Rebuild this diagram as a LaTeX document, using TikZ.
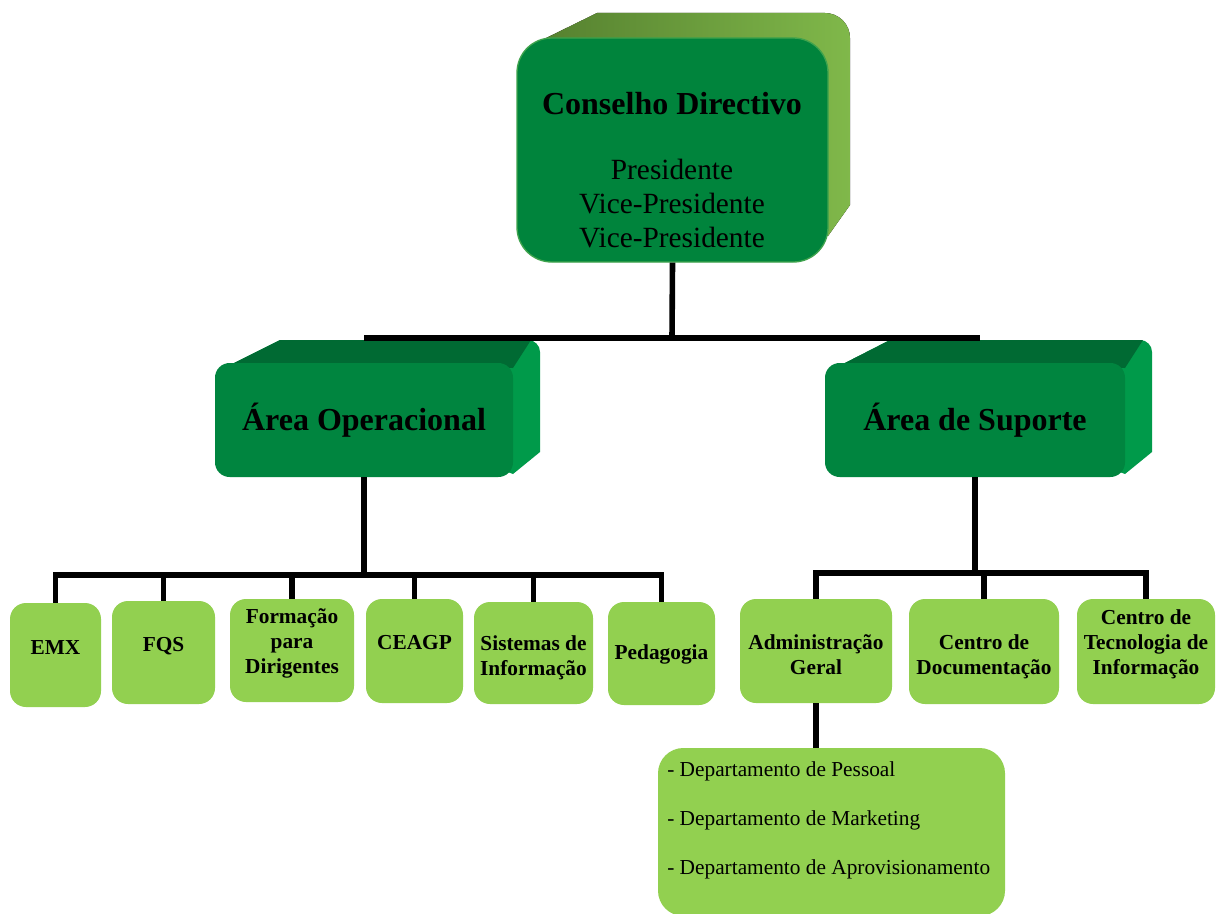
\documentclass[tikz,border=0pt]{standalone}
\usepackage{fontspec}
\setmainfont{Liberation Serif}
\usetikzlibrary{calc}

\definecolor{headfront}{HTML}{00843C}
\definecolor{headrim}{HTML}{3FA34D}
\definecolor{headback}{HTML}{55802F}
\definecolor{headside}{HTML}{80B84A}
\definecolor{areafront}{HTML}{00853F}
\definecolor{areatop}{HTML}{006A33}
\definecolor{areaside}{HTML}{009A4A}
\definecolor{leaf}{HTML}{92D050}

\begin{document}
\begin{tikzpicture}[x=0.75pt,y=-0.75pt]
    \tikzstyle{every node}+=[inner sep=0pt]
    \tikzstyle{wire}=[black, line width=4.2pt]
    \tikzstyle{head}=[fill=headfront, draw=headrim, line width=1pt, rounded corners=26pt]
    \tikzstyle{area}=[fill=areafront, rounded corners=11pt, font=\fontsize{24}{28}\selectfont\bfseries]
    \tikzstyle{unit}=[fill=leaf, rounded corners=12pt, align=center, font=\fontsize{16}{18.75}\selectfont\bfseries]
    \useasboundingbox (0,0) rectangle (1216,913);
    \fill [white] (0,0) rectangle (1216,913);
    % 3d backs
    \fill [left color=headback, right color=headside] (538,42) -- (597,13) -- (825,13) arc [start angle=90, end angle=0, radius=18.75pt] -- (850,205) -- (828,236) -- cycle;
    \fill [areaside] (228,366) -- (280,340) -- (528,340) arc [start angle=90, end angle=0, radius=9pt] -- (540,452) -- (513,474) -- cycle;
    \fill [areatop] (228,366) -- (280,340) -- (531,340) -- (513,368) -- cycle;
    \fill [areaside] (839,366) -- (890,340) -- (1140,340) arc [start angle=90, end angle=0, radius=9pt] -- (1152,452) -- (1125,474) -- cycle;
    \fill [areatop] (839,366) -- (890,340) -- (1143,340) -- (1125,368) -- cycle;
    % boxes
    \node [head, minimum width=233.25pt, minimum height=168pt] (cd) at (672.5,150) {};
    \node [font=\fontsize{24}{28}\selectfont\bfseries] (cdtitle) at (672,104) {Conselho Directivo};
    \node [align=center, font=\fontsize{22}{25.5}\selectfont] (cdroles) at (672,204) {Presidente\\Vice-Presidente\\Vice-Presidente};
    \node [area, minimum width=223.5pt, minimum height=85.5pt] (ao) at (364,420) {Área Operacional};
    \node [area, minimum width=225pt, minimum height=85.5pt] (as) at (975,420) {Área de Suporte};
    \node [unit, minimum width=68.25pt, minimum height=78pt, text depth=10pt, text height=8.5pt] (emx) at (55.5,655) {EMX};
    \node [unit, minimum width=77.25pt, minimum height=77.25pt, text depth=10pt, text height=7.75pt] (fqs) at (163.5,652.5) {FQS};
    \node [unit, minimum width=93pt, minimum height=77.25pt, text depth=5pt, text height=38.75pt] (form) at (292,650.5) {Formação\\para\\Dirigentes};
    \node [unit, minimum width=72.75pt, minimum height=78pt, text depth=10pt, text height=7pt] (ceagp) at (414.5,651) {CEAGP};
    \node [unit, minimum width=89.25pt, minimum height=76.5pt, text depth=5pt, text height=38pt] (sist) at (533.5,653) {Sistemas de\\Informação};
    \node [unit, minimum width=80.25pt, minimum height=77.25pt, text depth=10pt, text height=18.25pt] (ped) at (661.5,653.5) {Pedagogia};
    \node [unit, minimum width=114pt, minimum height=78pt, text depth=5pt, text height=39.5pt] (adm) at (816,651) {Administração\\Geral};
    \node [unit, minimum width=112.5pt, minimum height=78.75pt, text depth=5pt, text height=38.75pt] (doc) at (984,651.5) {Centro de\\Documentação};
    \node [unit, minimum width=103.5pt, minimum height=78.75pt, text depth=5pt, text height=38.75pt] (cti) at (1146,651.5) {Centro de\\Tecnologia de\\Informação};
    \node [fill=leaf, rounded corners=19pt, minimum width=260.25pt, minimum height=126pt] (dept) at (831.5,832) {};
    \node [anchor=west, align=left, font=\fontsize{16}{36.75}\selectfont] (depttxt) at (667,820) {- Departamento de Pessoal\\- Departamento de Marketing\\- Departamento de Aprovisionamento};
    % lines
    \coordinate (topbus) at (672,338);
    \coordinate (leftbus) at (367,575);
    \coordinate (rightbus) at (977,573);
    \draw [wire] (cd.south) -- (topbus);
    \draw [wire] (ao.center |- topbus) -- ([xshift=3.75pt]as.center |- topbus);
    \draw [wire] (ao.south) -- (ao.south |- leftbus);
    \draw [wire] (emx.north) -- (emx.north |- leftbus) -- (ped.north |- leftbus) -- (ped.north);
    \foreach \u in {fqs,form,ceagp,sist}
        \draw [wire] (\u.north |- leftbus) -- (\u.north);
    \draw [wire] (as.south) -- (as.south |- rightbus);
    \draw [wire] (adm.north) -- (adm.north |- rightbus) -- (cti.north |- rightbus) -- (cti.north);
    \draw [wire] (doc.north |- rightbus) -- (doc.north);
    \draw [wire] (adm.south) -- (adm.south |- dept.north);
\end{tikzpicture}
\end{document}
